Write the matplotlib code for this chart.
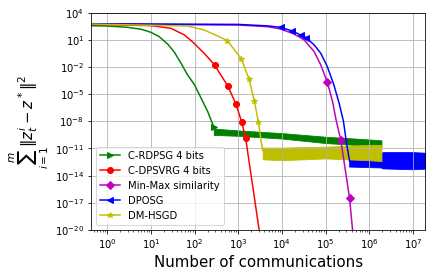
import numpy as np
import matplotlib
matplotlib.use('Agg')
import matplotlib.pyplot as plt
from matplotlib.ticker import NullLocator

# valores, em expoentes de 10 (log10 x, log10 y)
# C-RDPSG 4 bits - parte suave
lx_rdpsg = [-0.37, 0.0, 0.47, 0.78, 1.0, 1.19, 1.39, 1.54, 1.69, 1.84, 2.0,
            2.15, 2.30, 2.39, 2.44]
ly_rdpsg = [2.58, 2.54, 2.40, 2.18, 1.85, 1.37, 0.52, -0.36, -1.57, -2.86,
            -3.96, -5.43, -6.9, -8.0, -8.6]
mk_rdpsg = [2.44]
# C-RDPSG - faixa ruidosa
lx_rdpsg_band = [2.44, 3.0, 4.0, 5.0, 6.0, 6.28]
sup_rdpsg = [-8.8, -9.0, -9.3, -9.7, -10.0, -10.1]
inf_rdpsg = [-9.5, -9.6, -9.9, -10.4, -10.7, -10.8]

# C-DPSVRG 4 bits
lx_dpsvrg = [-0.37, 1.0, 1.46, 1.77, 1.99, 2.22, 2.36, 2.46, 2.76, 2.95,
             3.08, 3.17, 3.51]
ly_dpsvrg = [2.73, 2.58, 2.29, 1.55, 0.63, -0.47, -1.21, -1.79, -4.07, -6.1,
             -8.08, -9.85, -21.0]
mk_dpsvrg = [2.46, 2.76, 2.95, 3.08, 3.17]

# Min-Max similarity
lx_minmax = [-0.37, 3.0, 3.67, 3.97, 4.28, 4.51, 4.74, 4.89, 5.04, 5.16,
             5.24, 5.35, 5.55, 5.64]
ly_minmax = [2.75, 2.65, 2.47, 2.21, 1.66, 1.0, -0.29, -1.76, -3.67, -5.8,
             -7.82, -10.1, -16.5, -21.1]
mk_minmax = [5.04, 5.35, 5.55]

# DPOSG
lx_dposg = [-0.37, 3.0, 3.67, 3.97, 4.24, 4.43, 4.55, 4.74, 4.89, 5.04,
            5.19, 5.31, 5.41, 5.48, 5.55]
ly_dposg = [2.8, 2.72, 2.56, 2.40, 1.99, 1.55, 1.26, 0.45, -0.47, -1.94,
            -3.96, -5.98, -8.0, -10.4, -12.4]
mk_dposg = [3.97, 4.24, 4.43, 4.55]
lx_dposg_band = [5.54, 6.27, 6.30, 7.0, 7.4]
sup_dposg = [-11.9, -11.8, -11.4, -11.4, -11.5]
inf_dposg = [-13.0, -13.1, -13.2, -13.3, -13.2]

# DM-HSGD
lx_hsgd = [-0.37, 1.84, 2.22, 2.53, 2.75, 3.07, 3.25, 3.37, 3.46, 3.52,
           3.56]
ly_hsgd = [2.76, 2.54, 2.1, 1.44, 0.93, -1.06, -3.34, -5.76, -8.04, -10.0,
           -11.2]
mk_hsgd = [2.75, 3.07, 3.25, 3.37, 3.46]
lx_hsgd_band = [3.56, 4.0, 5.0, 6.0, 6.28]
sup_hsgd = [-10.9, -10.9, -10.8, -10.6, -10.6]
inf_hsgd = [-12.2, -12.3, -12.1, -12.3, -12.4]


def curva(ax, lx, ly, marcas, cor, marcador, rotulo):
    idx = [lx.index(m) for m in marcas]
    ax.plot(10.0**np.array(lx), 10.0**np.array(ly), color=cor,
            marker=marcador, markevery=idx, markersize=6, lw=1.5,
            label=rotulo)


def faixa(ax, lx, sup, inf, cor):
    ax.fill_between(10.0**np.array(lx), 10.0**np.array(inf),
                    10.0**np.array(sup), color=cor, lw=0.8, edgecolor=cor)


fig = plt.figure(figsize=(6, 3.85), dpi=72)
ax = fig.add_axes([0.211, 0.170, 0.773, 0.783])

faixa(ax, lx_rdpsg_band, sup_rdpsg, inf_rdpsg, 'g')
curva(ax, lx_rdpsg, ly_rdpsg, mk_rdpsg, 'g', '>', 'C-RDPSG 4 bits')
curva(ax, lx_dpsvrg, ly_dpsvrg, mk_dpsvrg, 'r', 'o', 'C-DPSVRG 4 bits')
curva(ax, lx_minmax, ly_minmax, mk_minmax, 'm', 'D', 'Min-Max similarity')
faixa(ax, lx_dposg_band, sup_dposg, inf_dposg, 'b')
curva(ax, lx_dposg, ly_dposg, mk_dposg, 'b', '<', 'DPOSG')
faixa(ax, lx_hsgd_band, sup_hsgd, inf_hsgd, 'y')
curva(ax, lx_hsgd, ly_hsgd, mk_hsgd, 'y', '*', 'DM-HSGD')

ax.set_xscale('log')
ax.set_yscale('log')
ax.set_xlim(0.43, 1.9e7)
ax.set_ylim(1e-20, 1e4)
ax.set_yticks([10.0**k for k in range(-20, 5, 3)])
ax.yaxis.set_minor_locator(NullLocator())
ax.set_xticks([10.0**k for k in range(0, 8)])
ax.grid(True, which='major', color='#b0b0b0', lw=0.8)

ax.set_xlabel('Number of communications', fontsize=15)
ax.set_ylabel(r'$\sum_{i=1}^{m}\|z_t^i - z^*\|^2$', fontsize=15)
ax.legend(loc='lower left', fontsize=10)

fig.savefig('out.png', dpi=72)
